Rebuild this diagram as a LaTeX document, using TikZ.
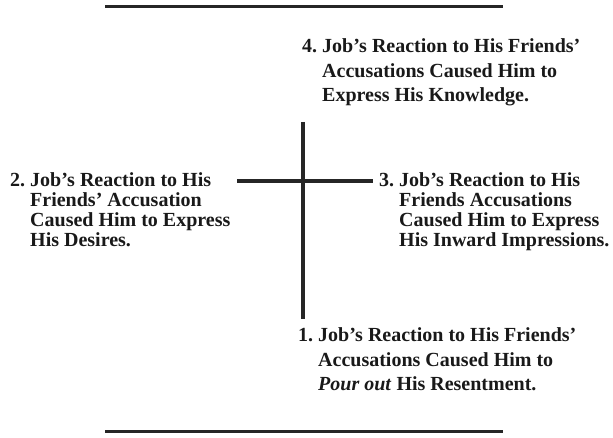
\documentclass[tikz,border=0pt]{standalone}
\usepackage{fontspec}
\setmainfont{Liberation Serif}

\begin{document}
\begin{tikzpicture}[
        x=1pt, y=1pt,
        every node/.style={inner sep=0pt, anchor=base west, text=black!90},
        tight/.style={font=\bfseries\fontsize{20}{20}\selectfont},
        loose/.style={font=\bfseries\fontsize{20}{24.3}\selectfont},
        rule/.style={line width=3pt, draw=black!85},
        beam/.style={line width=4pt, draw=black!85}
    ]
        \useasboundingbox (0,0) rectangle (613,438);

        % the four reactions
        \node [loose] (R4) at (302,385) {\begin{tabular}[t]{@{}l@{\ }l@{}}
            4. & Job's Reaction to His Friends' \\
               & Accusations Caused Him to \\
               & Express His Knowledge.
        \end{tabular}};
        \node [tight] (R2) at (10,251) {\begin{tabular}[t]{@{}l@{\ }l@{}}
            2. & Job's Reaction to His \\
               & Friends' Accusation \\
               & Caused Him to Express \\
               & His Desires.
        \end{tabular}};
        \node [tight] (R3) at (379,251) {\begin{tabular}[t]{@{}l@{\ }l@{}}
            3. & Job's Reaction to His \\
               & Friends Accusations \\
               & Caused Him to Express \\
               & His Inward Impressions.
        \end{tabular}};
        \node [loose] (R1) at (298,96) {\begin{tabular}[t]{@{}l@{\ }l@{}}
            1. & Job's Reaction to His Friends' \\
               & Accusations Caused Him to \\
               & \textit{Pour out} His Resentment.
        \end{tabular}};

        % ends of the cross and of the rules
        \coordinate (crossT) at (303,316);
        \coordinate (crossB) at (303,119);
        \coordinate (crossL) at (237,257);
        \coordinate (crossR) at (373,257);
        \coordinate (topL) at (105,431);
        \coordinate (topR) at (503,431);
        \coordinate (botL) at (105,6);
        \coordinate (botR) at (503,6);

        % the cross
        \draw[beam] (crossT) -- (crossB);
        \draw[beam] (crossL) -- (crossR);

        % rules above and below
        \draw[rule] (topL) -- (topR);
        \draw[rule] (botL) -- (botR);
    \end{tikzpicture}
\end{document}
